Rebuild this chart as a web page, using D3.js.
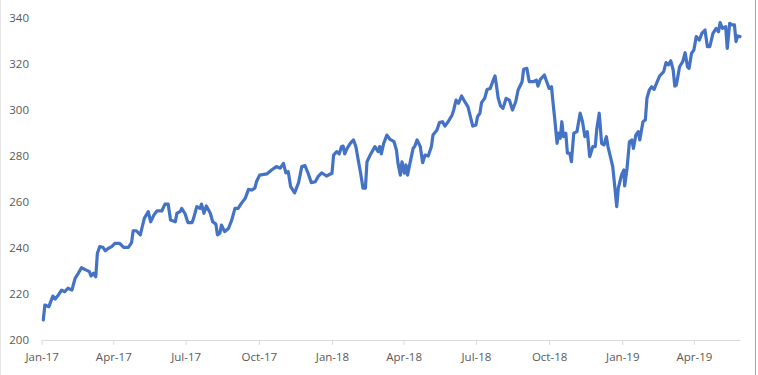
<!DOCTYPE html>
<html>
<head>
<meta charset="utf-8">
<script src="https://cdn.jsdelivr.net/npm/d3@7"></script>
<style>
  body { margin: 0; background: #fff; }
  #chart text { font-family: "Open Sans", "Noto Sans", sans-serif; font-size: 11.5px; fill: #595959; }
</style>
</head>
<body>
<svg id="chart"></svg>
<script>
// daily closes
const dates = [
  "2017-01-03","2017-01-05","2017-01-10","2017-01-15","2017-01-18","2017-01-22","2017-01-26","2017-01-30",
  "2017-02-03","2017-02-08","2017-02-12","2017-02-16","2017-02-20","2017-02-26","2017-03-02","2017-03-04",
  "2017-03-07","2017-03-10","2017-03-12","2017-03-15","2017-03-19","2017-03-22","2017-03-26","2017-03-30",
  "2017-04-03","2017-04-09","2017-04-14","2017-04-20","2017-04-24","2017-04-26","2017-04-30","2017-05-05",
  "2017-05-07","2017-05-10","2017-05-15","2017-05-18","2017-05-22","2017-05-26","2017-06-01","2017-06-05",
  "2017-06-09","2017-06-12","2017-06-18","2017-06-20","2017-06-24","2017-06-26","2017-06-30","2017-07-04",
  "2017-07-09","2017-07-11","2017-07-15","2017-07-19","2017-07-21","2017-07-24","2017-07-27","2017-08-01",
  "2017-08-04","2017-08-08","2017-08-10","2017-08-13","2017-08-15","2017-08-19","2017-08-24","2017-08-28",
  "2017-09-01","2017-09-05","2017-09-09","2017-09-14","2017-09-18","2017-09-22","2017-09-26","2017-09-28",
  "2017-10-02","2017-10-11","2017-10-17","2017-10-23","2017-10-28","2017-11-01","2017-11-04","2017-11-07",
  "2017-11-10","2017-11-15","2017-11-20","2017-11-24","2017-11-28","2017-12-02","2017-12-06","2017-12-11",
  "2017-12-15","2017-12-19","2017-12-25","2018-01-01","2018-01-03","2018-01-07","2018-01-10","2018-01-13",
  "2018-01-15","2018-01-17","2018-01-20","2018-01-24","2018-01-28","2018-01-31","2018-02-03","2018-02-06",
  "2018-02-09","2018-02-12","2018-02-14","2018-02-18","2018-02-21","2018-02-24","2018-02-28","2018-03-02",
  "2018-03-04","2018-03-07","2018-03-11","2018-03-15","2018-03-20","2018-03-23","2018-03-25","2018-03-28",
  "2018-03-30","2018-04-02","2018-04-04","2018-04-06","2018-04-09","2018-04-13","2018-04-15","2018-04-18",
  "2018-04-22","2018-04-25","2018-04-28","2018-05-02","2018-05-06","2018-05-08","2018-05-13","2018-05-16",
  "2018-05-20","2018-05-23","2018-05-27","2018-06-01","2018-06-03","2018-06-06","2018-06-09","2018-06-13",
  "2018-06-17","2018-06-21","2018-06-24","2018-06-27","2018-07-01","2018-07-03","2018-07-06","2018-07-08",
  "2018-07-12","2018-07-15","2018-07-19","2018-07-22","2018-07-25","2018-07-27","2018-07-29","2018-08-01",
  "2018-08-04","2018-08-08","2018-08-12","2018-08-16","2018-08-20","2018-08-23","2018-08-28","2018-08-30",
  "2018-09-03","2018-09-06","2018-09-11","2018-09-15","2018-09-17","2018-09-20","2018-09-25","2018-09-28",
  "2018-10-01","2018-10-04","2018-10-06","2018-10-08","2018-10-11","2018-10-13","2018-10-15","2018-10-17",
  "2018-10-19","2018-10-22","2018-10-24","2018-10-27","2018-10-29","2018-11-01","2018-11-05","2018-11-09",
  "2018-11-12","2018-11-15","2018-11-18","2018-11-21","2018-11-25","2018-11-28","2018-11-30","2018-12-03",
  "2018-12-06","2018-12-09","2018-12-12","2018-12-14","2018-12-18","2018-12-20","2018-12-23","2018-12-25",
  "2018-12-27","2018-12-31","2019-01-03","2019-01-04","2019-01-07","2019-01-10","2019-01-13","2019-01-15",
  "2019-01-18","2019-01-21","2019-01-23","2019-01-27","2019-01-30","2019-02-01","2019-02-04","2019-02-07",
  "2019-02-10","2019-02-13","2019-02-17","2019-02-22","2019-02-25","2019-02-28","2019-03-03","2019-03-06",
  "2019-03-08","2019-03-10","2019-03-14","2019-03-18","2019-03-21","2019-03-24","2019-03-26","2019-03-29",
  "2019-04-01","2019-04-04","2019-04-08","2019-04-11","2019-04-15","2019-04-18","2019-04-21","2019-04-25",
  "2019-04-29","2019-05-02","2019-05-04","2019-05-07","2019-05-11","2019-05-13","2019-05-16","2019-05-19",
  "2019-05-22","2019-05-24","2019-05-26","2019-05-29"
];

const values = [
  208.7,215.2,214.5,219.1,217.8,219.6,221.7,221.0,
  222.5,221.7,226.8,229.0,231.4,230.4,229.7,227.8,
  229.0,227.5,237.7,240.6,240.3,238.8,239.9,240.6,
  242.0,242.0,240.3,240.3,242.3,247.5,247.5,245.7,
  248.6,252.9,255.8,251.4,254.3,256.2,256.1,259.1,
  259.1,252.2,251.4,255.1,255.8,257.2,255.1,251.0,
  251.0,252.9,258.0,257.2,259.1,255.1,258.3,255.1,
  251.4,250.4,245.7,246.4,250.0,247.1,248.6,252.2,
  257.2,257.2,259.4,261.6,265.5,265.2,266.0,268.8,
  271.7,272.2,273.9,275.4,274.7,276.8,272.7,273.2,
  266.7,264.0,268.4,275.4,275.8,272.5,268.4,268.8,
  271.3,272.7,271.3,272.5,280.4,281.9,280.9,284.1,
  284.3,280.9,283.3,285.5,287.0,284.1,278.3,272.5,
  266.0,266.0,277.5,280.4,282.3,284.1,281.9,284.1,
  280.9,285.5,289.1,287.2,286.2,282.6,276.8,271.7,
  277.5,272.5,276.1,271.7,276.8,283.3,284.1,287.0,
  284.1,277.1,280.4,280.0,284.1,289.1,291.3,294.5,
  294.9,293.0,294.9,297.8,300.0,304.3,302.9,306.1,
  303.6,301.4,297.1,293.0,293.5,297.1,298.6,303.2,
  305.1,308.9,309.4,312.3,314.8,310.1,305.1,301.7,
  300.7,305.1,304.3,300.0,303.6,308.7,312.3,317.7,
  318.1,312.3,312.3,313.0,310.4,313.3,315.2,312.3,
  309.4,310.1,302.9,296.4,285.5,289.9,287.7,294.9,
  288.4,289.9,281.2,281.2,277.5,289.9,290.6,298.6,
  294.9,288.4,290.6,279.7,284.1,284.1,292.0,298.6,
  285.5,284.8,288.4,284.1,278.3,275.4,265.2,258.0,
  266.0,271.7,273.9,267.0,274.7,286.2,287.0,283.3,
  289.1,290.6,287.0,294.9,295.7,305.1,308.7,310.1,
  309.0,311.6,314.8,316.7,320.6,319.6,321.4,317.4,
  310.4,310.9,318.8,321.0,324.9,318.8,318.1,324.6,
  326.1,331.9,330.4,333.3,334.8,327.5,327.5,333.3,
  335.5,334.0,338.0,335.5,336.2,326.8,337.7,337.0,
  337.0,329.7,332.2,331.9
];

const yTicks = [200, 220, 240, 260, 280, 300, 320, 340];
const xDomain = ["2017-01-01", "2019-05-29"];

const dimensions = {
  width: 758,
  height: 375,
  margin: { top: 18, bottom: 35, left: 41.7, right: 18 }
};

const parseDate = d3.utcParse("%Y-%m-%d");
const series = dates.map((d, i) => ({ date: parseDate(d), value: values[i] }));

const svg = d3.select("#chart")
  .attr("width", dimensions.width)
  .attr("height", dimensions.height);

const xScale = d3.scaleUtc()
  .domain(xDomain.map(parseDate))
  .range([dimensions.margin.left, dimensions.width - dimensions.margin.right]);

const yScale = d3.scaleLinear()
  .domain([200, 340])
  .range([dimensions.height - dimensions.margin.bottom, dimensions.margin.top]);

// chart frame edges
svg.append("line")
  .attr("x1", 0.5).attr("x2", 0.5)
  .attr("y1", 0).attr("y2", dimensions.height)
  .attr("stroke", "#e6e6e6");
svg.append("line")
  .attr("x1", 755.5).attr("x2", 755.5)
  .attr("y1", 0).attr("y2", dimensions.height)
  .attr("stroke", "#a6a6a6");

// x axis
const axisX = d3.axisBottom(xScale)
  .ticks(d3.utcMonth.every(3))
  .tickSize(5)
  .tickSizeOuter(0)
  .tickPadding(8)
  .tickFormat(d3.utcFormat("%b-%y"));

const gx = svg.append("g")
  .attr("transform", `translate(0,${yScale(200)})`)
  .call(axisX);
gx.select(".domain").attr("stroke", "#d9d9d9");
gx.selectAll(".tick line").attr("stroke", "#d9d9d9");

// y axis, labels only
const axisY = d3.axisLeft(yScale)
  .tickValues(yTicks)
  .tickSize(0)
  .tickPadding(0);

const gy = svg.append("g")
  .attr("transform", "translate(29,0)")
  .call(axisY);
gy.select(".domain").remove();

svg.selectAll(".tick text").attr("fill", "#595959").style("font-size", "11.5px");

// price line
const line = d3.line()
  .x(d => xScale(d.date))
  .y(d => yScale(d.value));

svg.append("path")
  .datum(series)
  .attr("fill", "none")
  .attr("stroke", "#4472c4")
  .attr("stroke-width", 3.2)
  .attr("stroke-linejoin", "round")
  .attr("stroke-linecap", "round")
  .attr("d", line);
</script>
</body>
</html>
